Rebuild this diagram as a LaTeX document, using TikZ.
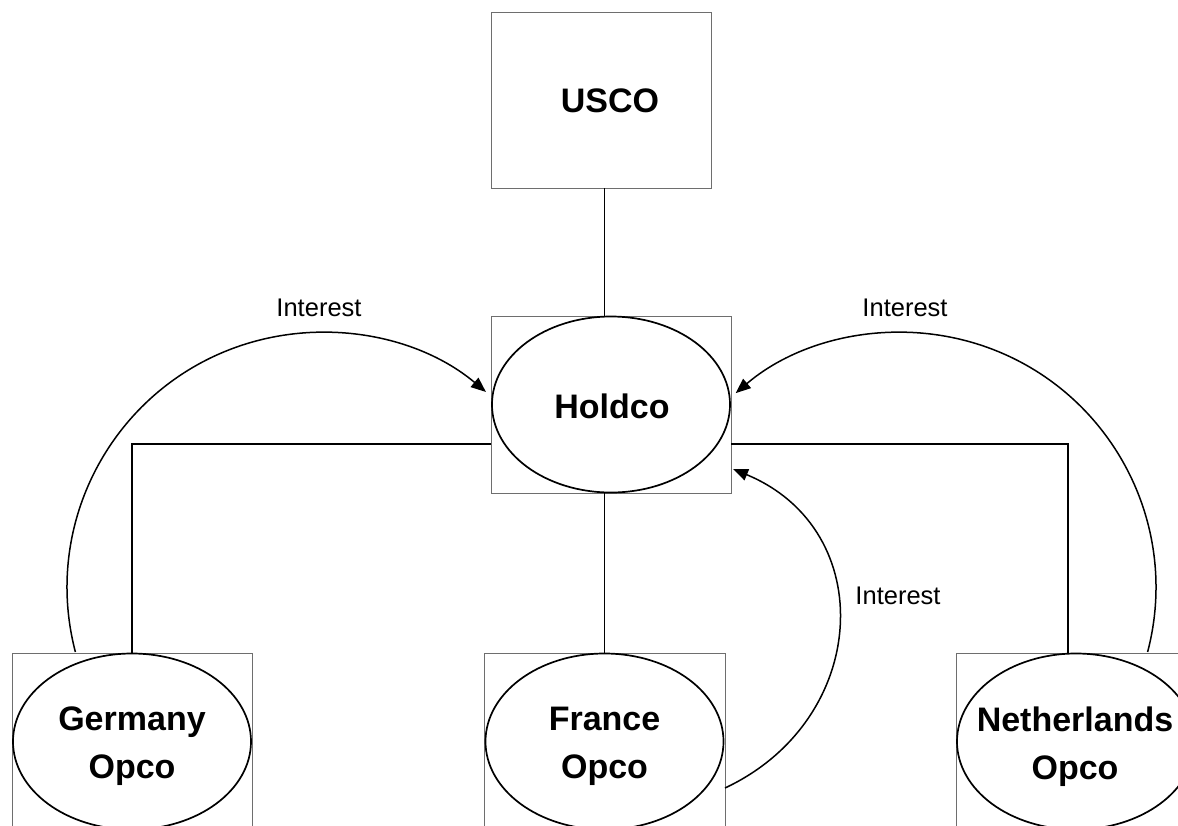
\documentclass[tikz,border=0pt]{standalone}
\usepackage{fontspec}
\setmainfont{Liberation Sans}
\usetikzlibrary{arrows.meta,calc,shapes.geometric}
\definecolor{boxgray}{RGB}{110,110,110}
\begin{document}
\begin{tikzpicture}[x=1pt,y=-1pt,
  box/.style={draw=boxgray, line width=0.9pt, inner sep=0pt, outer sep=0pt},
  oval/.style={draw=black, ellipse, line width=1.7pt, inner sep=0pt, outer sep=0pt,
    minimum width=238pt, minimum height=176pt},
  bigtext/.style={font=\fontsize{34}{48}\selectfont\bfseries, align=center, text=black},
  conn/.style={draw=black, line width=1.5pt},
  arr/.style={conn, -{Triangle[length=15pt,width=12pt]}},
  lbl/.style={font=\fontsize{25.5}{30}\selectfont, text=black, inner sep=0pt}]
\useasboundingbox (0,0) rectangle (1178,825);
\clip (0,0) rectangle (1178,825);
\fill[white] (0,0) rectangle (1178,825);

% boxes
\node[box, minimum width=220pt, minimum height=176pt] (usco) at (601,100) {};
\node[bigtext] (uscot) at ($(usco.center)+(9,1)$) {USCO};
\node[box, minimum width=240pt, minimum height=177pt] (holdbox) at (611,404.5) {};
\node[oval] (hold) at (611,404.5) {};
\node[bigtext] (holdt) at ($(hold.center)+(1,2)$) {Holdco};

\node[box, minimum width=240pt, minimum height=177pt] (gebox) at (132,741.5) {};
\node[oval] (ge) at (132,741.5) {};
\node[bigtext] (get) at ($(ge.center)+(0,5)$) {Germany\\Opco};

\node[box, minimum width=241pt, minimum height=177pt] (frbox) at (604.5,741.5) {};
\node[oval] (fr) at (604.5,741.5) {};
\node[bigtext] (frt) at ($(fr.center)+(0,5)$) {France\\Opco};

\node[box, minimum width=240pt, minimum height=177pt] (nebox) at (1076,741.5) {};
\node[oval] (ne) at (1076,741.5) {};
\node[bigtext] (net) at (1075,746.5) {Netherlands\\Opco};

% ownership lines
\draw[conn] (usco.south -| fr.north) -- (holdbox.north -| fr.north);
\draw[conn] (holdbox.south -| fr.north) -- (frbox.north);
\draw[conn] (holdbox.west |- 0,444) -| (gebox.north);
\coordinate (nein) at ($(nebox.north)+(-8,0)$);
\draw[conn] (holdbox.east |- 0,444) -| (nein);

% interest arcs
\coordinate (gs) at ($(gebox.north west)+(63.4,-1)$);
\draw[arr] (gs) arc[start angle=165.3, end angle=310, radius=255];
\coordinate (ns) at ($(nebox.north west)+(191.6,-1)$);
\draw[arr] (ns) arc[start angle=14.7, end angle=-130.4, radius=255];
\coordinate (fs) at ($(frbox.east)+(0,46.5)$);
\coordinate (fe) at ($(holdbox.east)+(2,64.5)$);
\draw[arr] (fs) .. controls (870,720) and (880,530) .. (fe);

% labels
\node[lbl] (l1) at (319,308) {Interest};
\node[lbl] (l2) at (905,308) {Interest};
\node[lbl] (l3) at (898,596) {Interest};
\end{tikzpicture}
\end{document}
